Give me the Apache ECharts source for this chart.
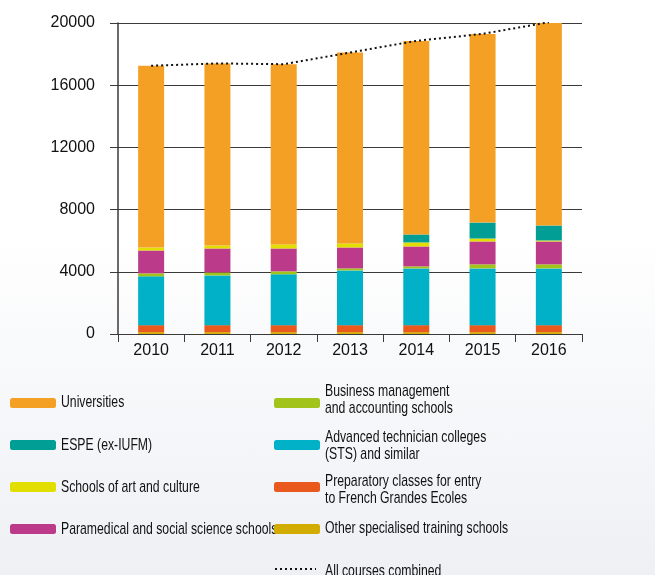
<!DOCTYPE html>
<html>
<head>
<meta charset="utf-8">
<script src="https://cdn.jsdelivr.net/npm/echarts@6/dist/echarts.min.js"></script>
<style>
html,body{margin:0;padding:0;}
body{background:linear-gradient(to bottom,#ffffff 0%,#ffffff 40%,#eef0f4 100%);}
#main{width:655px;height:575px;}
</style>
</head>
<body>
<div id="main"></div>
<script>
// categories
var years=['2010','2011','2012','2013','2014','2015','2016'];

// stacked series, bottom to top
var otherSchools=[120,120,120,120,120,120,120];
var prepClasses=[450,450,450,450,450,450,450];
var stsColleges=[3140,3200,3270,3520,3650,3650,3650];
var businessSchools=[190,190,190,130,130,260,260];
var paramedical=[1470,1540,1470,1345,1280,1470,1470];
var artSchools=[190,190,260,260,260,190,65];
var espe=[0,0,0,0,510,1025,960];
var universities=[11690,11710,11590,12275,12450,12135,13075];

// dotted total line
var allCourses=[17250,17400,17350,18100,18850,19300,20050];

var yTicks={min:0,max:20000,interval:4000};

var names={
    uni:'Universities',
    espe:'ESPE (ex-IUFM)',
    art:'Schools of art and culture',
    para:'Paramedical and social science schools',
    bus:'Business management\nand accounting schools',
    sts:'Advanced technician colleges\n(STS) and similar',
    prep:'Preparatory classes for entry\nto French Grandes Ecoles',
    other:'Other specialised training schools',
    all:'All courses combined'
};

var colors={
    uni:'#f4a024',
    espe:'#009e94',
    art:'#e2df00',
    para:'#bb3b8a',
    bus:'#a2c31a',
    sts:'#00b1c8',
    prep:'#e9591e',
    other:'#d2ac00'
};

var myChart=echarts.init(document.getElementById('main'));

function barSerie(key,data){
    return {
        name:names[key],
        type:'bar',
        stack:'total',
        barWidth:26,
        data:data,
        itemStyle:{color:colors[key]}
    };
}

// legend layout: [key, icon left, icon centre y, text centre y]
var legendPos=[
    ['uni',10,403,402],
    ['espe',10,445,445],
    ['art',10,487,487],
    ['para',10,529,529],
    ['bus',274,403,400],
    ['sts',274,445,445.5],
    ['prep',274,487,489.5],
    ['other',274,529,528],
    ['all',274,570,571]
];

var legends=[];
var texts=[];
for(var i=0;i<legendPos.length;i++){
    var p=legendPos[i];
    var item={name:names[p[0]]};
    if(p[0]=='all'){
        item.itemStyle={opacity:0};
    }
    legends.push({
        data:[item],
        left:p[1],
        top:p[2]-5,
        orient:'vertical',
        padding:0,
        itemGap:0,
        itemWidth:p[0]=='all'?41:46,
        itemHeight:10,
        selectedMode:false,
        formatter:function(){return '';},
        textStyle:{fontSize:10,lineHeight:10}
    });
    // condensed label text (the original uses a narrow face)
    texts.push({
        type:'text',
        x:p[1]+51,
        y:p[3],
        scaleX:0.72,
        style:{
            text:names[p[0]],
            fontFamily:'"Liberation Sans",Arial,sans-serif',
            fontSize:17,
            lineHeight:17,
            verticalAlign:'middle',
            fill:'#111'
        }
    });
}

var option={
    animation:false,
    grid:{left:118,top:23,width:464,height:311},
    legend:legends,
    graphic:texts,
    xAxis:{
        type:'category',
        data:years,
        boundaryGap:true,
        axisLine:{lineStyle:{color:'#3a3a3a',width:1}},
        axisTick:{show:true,length:8,lineStyle:{color:'#3a3a3a'}},
        axisLabel:{color:'#111',fontSize:16,fontFamily:'"Liberation Sans",Arial,sans-serif',margin:9}
    },
    yAxis:{
        type:'value',
        min:yTicks.min,
        max:yTicks.max,
        interval:yTicks.interval,
        axisLine:{show:true,lineStyle:{color:'#3a3a3a',width:1.5}},
        axisTick:{show:true,length:8,lineStyle:{color:'#3a3a3a'}},
        splitLine:{show:true,lineStyle:{color:'#3a3a3a',width:1}},
        axisLabel:{
            color:'#111',fontSize:16,fontFamily:'"Liberation Sans",Arial,sans-serif',margin:23,
            formatter:function(v){return String(v);}
        }
    },
    series:[
        barSerie('other',otherSchools),
        barSerie('prep',prepClasses),
        barSerie('sts',stsColleges),
        barSerie('bus',businessSchools),
        barSerie('para',paramedical),
        barSerie('art',artSchools),
        barSerie('espe',espe),
        barSerie('uni',universities),
        {
            name:names.all,
            type:'line',
            data:allCourses,
            symbol:'none',
            z:5,
            lineStyle:{color:'#111',width:2,type:[2,3]},
            itemStyle:{color:'#111'}
        }
    ]
};

myChart.setOption(option);
</script>
</body>
</html>
